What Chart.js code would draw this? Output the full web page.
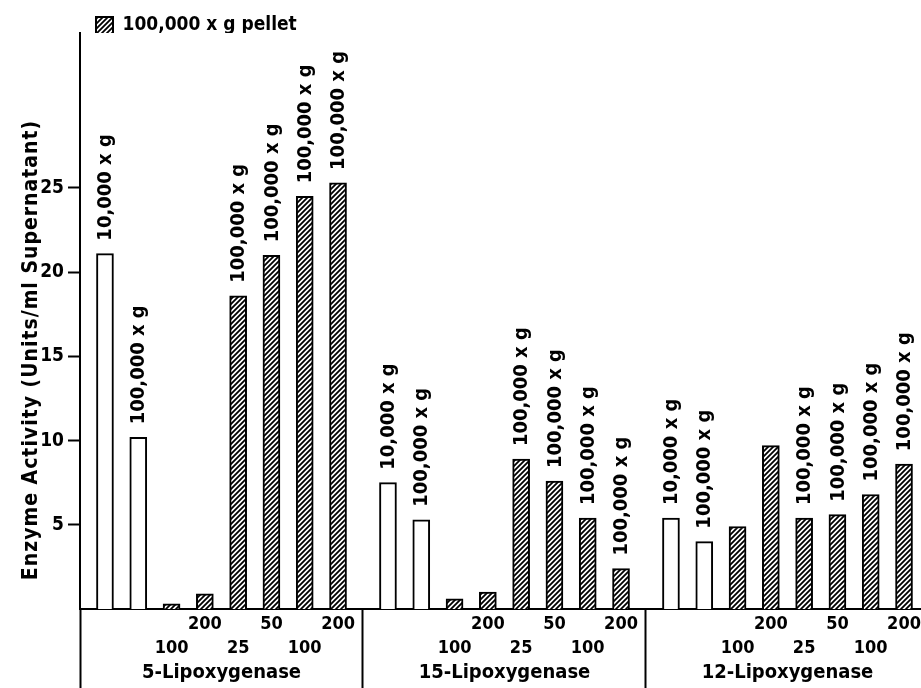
<!DOCTYPE html>
<html>
<head>
<meta charset="utf-8">
<script src="https://cdn.jsdelivr.net/npm/chart.js@4/dist/chart.umd.min.js"></script>
<style>
  html, body { margin: 0; padding: 0; background: #fff; }
  #wrap { width: 921px; height: 688px; position: relative; }
</style>
</head>
<body>
<div id="wrap"><canvas id="chart"></canvas></div>
<script>
// values
const groups = ['5-Lipoxygenase', '15-Lipoxygenase', '12-Lipoxygenase'];
const lox5 = [21.1, 10.2, 0.3, 0.9, 18.6, 21.0, 24.5, 25.3];
const lox15 = [7.5, 5.3, 0.6, 1.0, 8.9, 7.6, 5.4, 2.4];
const lox12 = [5.4, 4.0, 4.9, 9.7, 5.4, 5.6, 6.8, 8.6];
const doses = ['', '', '100', '200', '25', '50', '100', '200'];
const spinLabels = ['10,000 x g', '100,000 x g', '', '', '100,000 x g', '100,000 x g', '100,000 x g', '100,000 x g'];
const isPellet = [false, false, true, true, true, true, true, true];
const yTicks = [5, 10, 15, 20, 25];
const yTitle = 'Enzyme Activity (Units/ml Supernatant)';
const pelletLabel = '100,000 x g pellet';
const supernatantLabel = 'supernatant';

const FONT = "'DejaVu Sans Condensed', 'Liberation Sans Narrow', 'DejaVu Sans', sans-serif";
const GROUP_SPAN = 8.5;   // slots per group on the x scale
const FIRST_BAR = 0.75;   // first bar offset inside a group

Chart.defaults.font.family = FONT;
Chart.defaults.font.size = 19;
Chart.defaults.font.weight = 'bold';
Chart.defaults.color = '#000';

function hatch() {
  const s = 5;
  const c = document.createElement('canvas');
  c.width = s; c.height = s;
  const g = c.getContext('2d');
  g.fillStyle = '#fff';
  g.fillRect(0, 0, s, s);
  g.strokeStyle = '#000';
  g.lineWidth = 1.8;
  g.beginPath();
  g.moveTo(-1, s + 1); g.lineTo(s + 1, -1);
  g.moveTo(-1, 1); g.lineTo(1, -1);
  g.moveTo(s - 1, s + 1); g.lineTo(s + 1, s - 1);
  g.stroke();
  return g.createPattern(c, 'repeat');
}

const series = [lox5, lox15, lox12];
const superPts = [];
const pelletPts = [];
series.forEach((vals, g) => {
  vals.forEach((v, i) => {
    const pt = { x: g * GROUP_SPAN + FIRST_BAR + i, y: v, label: spinLabels[i] };
    (isPellet[i] ? pelletPts : superPts).push(pt);
  });
});

// x-axis ticks: group dividers, dose labels (two staggered rows), group names
const xTickDefs = [];
groups.forEach((name, g) => {
  xTickDefs.push({ value: g * GROUP_SPAN, label: '', kind: 'divider' });
  doses.forEach((d, i) => {
    if (!d) return;
    const lbl = (i % 2 === 1) ? d : ['', d];
    xTickDefs.push({ value: g * GROUP_SPAN + FIRST_BAR + i, label: lbl, kind: 'dose' });
  });
  xTickDefs.push({ value: g * GROUP_SPAN + GROUP_SPAN / 2, label: ['', '', name], kind: 'group' });
});
xTickDefs.sort((a, b) => a.value - b.value);

const barLabelPlugin = {
  id: 'barLabels',
  afterDatasetsDraw(chart) {
    const ctx = chart.ctx;
    ctx.save();
    ctx.font = 'bold 20px ' + FONT;
    ctx.fillStyle = '#000';
    ctx.textAlign = 'left';
    ctx.textBaseline = 'middle';
    chart.data.datasets.forEach((ds, di) => {
      chart.getDatasetMeta(di).data.forEach((bar, j) => {
        const label = ds.data[j].label;
        if (!label) return;
        ctx.save();
        ctx.translate(bar.x + 1, bar.y - 13);
        ctx.rotate(-Math.PI / 2);
        ctx.fillText(label, 0, 0);
        ctx.restore();
      });
    });
    ctx.restore();
  }
};

const yTitlePlugin = {
  id: 'yTitle',
  afterDraw(chart) {
    const { ctx, chartArea } = chart;
    ctx.save();
    ctx.translate(32, (chartArea.top + chartArea.bottom) / 2 + 29);
    ctx.rotate(-Math.PI / 2);
    ctx.font = 'bold 21px ' + FONT;
    ctx.letterSpacing = '1px';
    ctx.fillStyle = '#000';
    ctx.textAlign = 'center';
    ctx.textBaseline = 'middle';
    ctx.fillText(yTitle, 0, 0);
    ctx.restore();
  }
};

new Chart(document.getElementById('chart'), {
  type: 'bar',
  data: {
    datasets: [
      {
        label: supernatantLabel,
        data: superPts,
        backgroundColor: '#fff',
        borderColor: '#000',
        borderWidth: 2,
        barThickness: 17,
        grouped: false
      },
      {
        label: pelletLabel,
        data: pelletPts,
        backgroundColor: hatch(),
        borderColor: '#000',
        borderWidth: 2,
        barThickness: 17,
        grouped: false
      }
    ]
  },
  options: {
    responsive: true,
    maintainAspectRatio: false,
    animation: false,
    layout: { padding: { top: 0, left: 0, right: 0, bottom: 0 } },
    plugins: {
      tooltip: { enabled: false },
      legend: {
        position: 'top',
        align: 'start',
        fullSize: false,
        maxHeight: 33,
        labels: {
          boxWidth: 17,
          boxHeight: 17,
          padding: 16,
          font: { size: 19, weight: 'bold' },
          filter: item => item.text === pelletLabel
        }
      }
    },
    scales: {
      x: {
        type: 'linear',
        min: 0,
        max: 25.26,
        offset: false,
        afterBuildTicks: s => { s.ticks = xTickDefs.map(d => ({ value: d.value })); },
        afterFit: s => { s.height = 79; },
        ticks: {
          autoSkip: false,
          maxRotation: 0,
          minRotation: 0,
          padding: -76,
          font: c => ({
            size: (xTickDefs[c.index] && xTickDefs[c.index].kind === 'group') ? 20 : 18,
            weight: 'bold',
            lineHeight: '24.5px'
          }),
          callback: (v, i) => (xTickDefs[i] ? xTickDefs[i].label : '')
        },
        grid: {
          offset: false,
          drawOnChartArea: false,
          drawTicks: true,
          tickLength: 79,
          tickWidth: 2,
          color: c => (xTickDefs[c.index] && xTickDefs[c.index].kind === 'divider') ? '#000' : 'rgba(0,0,0,0)'
        },
        border: { display: true, color: '#000', width: 2 }
      },
      y: {
        min: 0,
        max: 34.2,
        afterBuildTicks: s => { s.ticks = yTicks.map(v => ({ value: v })); },
        afterFit: s => { s.width = 80; },
        ticks: { padding: 4, font: { size: 19, weight: 'bold' } },
        grid: {
          drawOnChartArea: false,
          drawTicks: true,
          tickLength: 12,
          tickWidth: 2,
          color: '#000'
        },
        border: { display: true, color: '#000', width: 2 }
      }
    }
  },
  plugins: [barLabelPlugin, yTitlePlugin]
});
</script>
</body>
</html>
